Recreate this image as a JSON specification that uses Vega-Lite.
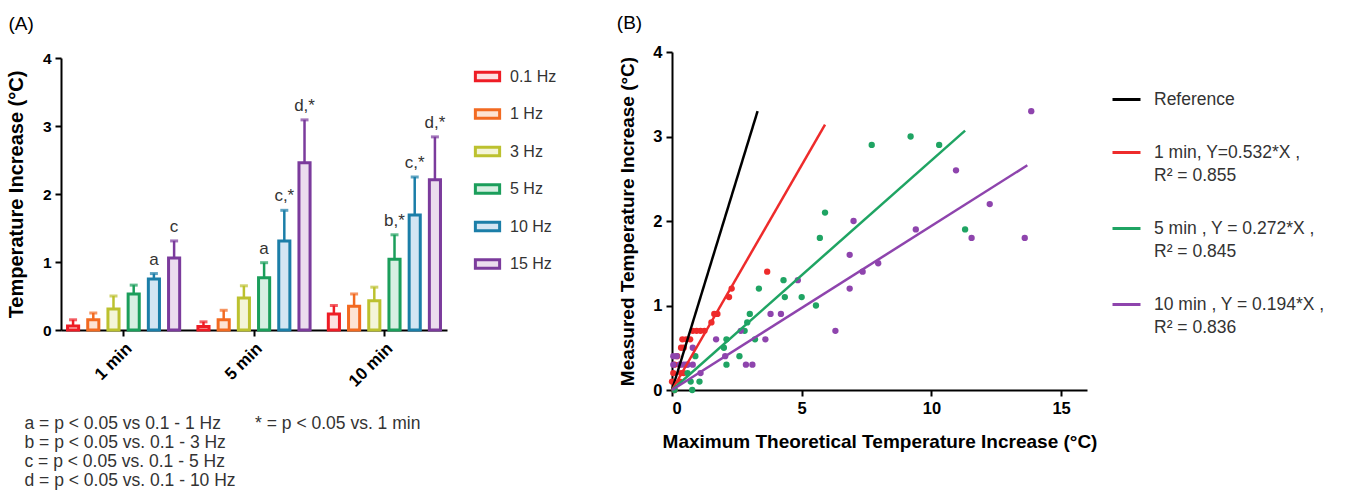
{
  "$schema": "https://vega.github.io/schema/vega-lite/v6.json",
  "background": "white",
  "padding": {"left": 6, "top": 14, "right": 5, "bottom": 5},
  "config": {
    "font": "Liberation Sans",
    "view": {"stroke": null},
    "axis": {"domainColor": "black", "domainWidth": 2, "tickColor": "black", "tickWidth": 2, "tickSize": 6, "labelFont": "Liberation Sans", "labelFontWeight": "bold", "labelFontSize": 15.5, "labelColor": "black", "labelPadding": 4, "titleFont": "Liberation Sans", "titleFontWeight": "bold", "titleColor": "black", "titleFontSize": 19, "grid": false},
    "legend": {"labelFont": "Liberation Sans", "labelFontSize": 16, "labelColor": "#333333", "titleFontSize": 0},
    "title": {"font": "Liberation Sans", "fontWeight": "normal", "fontSize": 19, "color": "black", "anchor": "start"}
  },
  "resolve": {
    "scale": {"color": "independent", "fill": "independent", "stroke": "independent"},
    "legend": {"color": "independent", "fill": "independent", "stroke": "independent"}
  },
  "datasets": {
    "bars": [
      {"time": "1 min", "freq": "0.1 Hz", "mean": 0.06, "upper": 0.15, "label": ""},
      {"time": "1 min", "freq": "1 Hz", "mean": 0.15, "upper": 0.25, "label": ""},
      {"time": "1 min", "freq": "3 Hz", "mean": 0.31, "upper": 0.5, "label": ""},
      {"time": "1 min", "freq": "5 Hz", "mean": 0.53, "upper": 0.66, "label": ""},
      {"time": "1 min", "freq": "10 Hz", "mean": 0.75, "upper": 0.83, "label": "a"},
      {"time": "1 min", "freq": "15 Hz", "mean": 1.06, "upper": 1.31, "label": "c"},
      {"time": "5 min", "freq": "0.1 Hz", "mean": 0.05, "upper": 0.12, "label": ""},
      {"time": "5 min", "freq": "1 Hz", "mean": 0.15, "upper": 0.29, "label": ""},
      {"time": "5 min", "freq": "3 Hz", "mean": 0.47, "upper": 0.65, "label": ""},
      {"time": "5 min", "freq": "5 Hz", "mean": 0.77, "upper": 0.99, "label": "a"},
      {"time": "5 min", "freq": "10 Hz", "mean": 1.31, "upper": 1.76, "label": "c,*"},
      {"time": "5 min", "freq": "15 Hz", "mean": 2.46, "upper": 3.09, "label": "d,*"},
      {"time": "10 min", "freq": "0.1 Hz", "mean": 0.235, "upper": 0.36, "label": ""},
      {"time": "10 min", "freq": "1 Hz", "mean": 0.35, "upper": 0.53, "label": ""},
      {"time": "10 min", "freq": "3 Hz", "mean": 0.43, "upper": 0.63, "label": ""},
      {"time": "10 min", "freq": "5 Hz", "mean": 1.04, "upper": 1.4, "label": "b,*"},
      {"time": "10 min", "freq": "10 Hz", "mean": 1.69, "upper": 2.25, "label": "c,*"},
      {"time": "10 min", "freq": "15 Hz", "mean": 2.21, "upper": 2.84, "label": "d,*"}
    ],
    "lines": [
      {"series": "Reference", "x": 0, "y": 0}, {"series": "Reference", "x": 3.3, "y": 3.3},
      {"series": "1 min", "x": 0, "y": 0}, {"series": "1 min", "x": 5.9, "y": 3.14},
      {"series": "5 min", "x": 0, "y": 0}, {"series": "5 min", "x": 11.3, "y": 3.07},
      {"series": "10 min", "x": 0, "y": 0}, {"series": "10 min", "x": 13.7, "y": 2.66}
    ],
    "points": [
      {"series": "1 min", "x": 3.67, "y": 1.4}, {"series": "1 min", "x": 2.3, "y": 1.2}, {"series": "1 min", "x": 2.2, "y": 1.1},
      {"series": "1 min", "x": 1.75, "y": 0.9}, {"series": "1 min", "x": 1.63, "y": 0.9}, {"series": "1 min", "x": 1.52, "y": 0.8},
      {"series": "1 min", "x": 0.8, "y": 0.7}, {"series": "1 min", "x": 0.95, "y": 0.7}, {"series": "1 min", "x": 1.1, "y": 0.7},
      {"series": "1 min", "x": 1.25, "y": 0.7}, {"series": "1 min", "x": 0.4, "y": 0.6}, {"series": "1 min", "x": 0.55, "y": 0.6},
      {"series": "1 min", "x": 0.7, "y": 0.6}, {"series": "1 min", "x": 0.35, "y": 0.5}, {"series": "1 min", "x": 0.45, "y": 0.5},
      {"series": "1 min", "x": 0.2, "y": 0.4}, {"series": "1 min", "x": 0.1, "y": 0.3}, {"series": "1 min", "x": 0.3, "y": 0.3},
      {"series": "1 min", "x": 0.05, "y": 0.2}, {"series": "1 min", "x": 0.35, "y": 0.2}, {"series": "1 min", "x": 0.45, "y": 0.2},
      {"series": "1 min", "x": 0.0, "y": 0.1}, {"series": "1 min", "x": 0.1, "y": 0.0}, {"series": "1 min", "x": 0.3, "y": 0.1},
      {"series": "5 min", "x": 5.9, "y": 2.1}, {"series": "5 min", "x": 5.7, "y": 1.8}, {"series": "5 min", "x": 7.7, "y": 2.9},
      {"series": "5 min", "x": 9.2, "y": 3.0}, {"series": "5 min", "x": 10.3, "y": 2.9}, {"series": "5 min", "x": 11.3, "y": 1.9},
      {"series": "5 min", "x": 4.3, "y": 1.3}, {"series": "5 min", "x": 4.35, "y": 1.1}, {"series": "5 min", "x": 5.0, "y": 1.1},
      {"series": "5 min", "x": 5.55, "y": 1.0}, {"series": "5 min", "x": 3.35, "y": 1.2}, {"series": "5 min", "x": 3.0, "y": 0.9},
      {"series": "5 min", "x": 2.9, "y": 0.8}, {"series": "5 min", "x": 2.8, "y": 0.7}, {"series": "5 min", "x": 3.2, "y": 0.6},
      {"series": "5 min", "x": 2.6, "y": 0.4}, {"series": "5 min", "x": 2.1, "y": 0.6}, {"series": "5 min", "x": 2.0, "y": 0.5},
      {"series": "5 min", "x": 2.1, "y": 0.3}, {"series": "5 min", "x": 0.9, "y": 0.4}, {"series": "5 min", "x": 0.72, "y": 0.1},
      {"series": "5 min", "x": 1.06, "y": 0.1}, {"series": "5 min", "x": 0.78, "y": 0.0}, {"series": "5 min", "x": 0.6, "y": 0.2},
      {"series": "5 min", "x": 0.1, "y": 0.0},
      {"series": "10 min", "x": 13.85, "y": 3.3}, {"series": "10 min", "x": 10.95, "y": 2.6}, {"series": "10 min", "x": 12.25, "y": 2.2},
      {"series": "10 min", "x": 11.55, "y": 1.8}, {"series": "10 min", "x": 13.6, "y": 1.8}, {"series": "10 min", "x": 9.4, "y": 1.9},
      {"series": "10 min", "x": 7.0, "y": 2.0}, {"series": "10 min", "x": 6.85, "y": 1.6}, {"series": "10 min", "x": 6.85, "y": 1.2},
      {"series": "10 min", "x": 7.35, "y": 1.4}, {"series": "10 min", "x": 7.95, "y": 1.5}, {"series": "10 min", "x": 4.85, "y": 1.3},
      {"series": "10 min", "x": 6.3, "y": 0.7}, {"series": "10 min", "x": 3.8, "y": 0.9}, {"series": "10 min", "x": 4.2, "y": 0.9},
      {"series": "10 min", "x": 3.6, "y": 0.6}, {"series": "10 min", "x": 1.7, "y": 0.6}, {"series": "10 min", "x": 2.65, "y": 0.7},
      {"series": "10 min", "x": 2.85, "y": 0.3}, {"series": "10 min", "x": 3.1, "y": 0.3}, {"series": "10 min", "x": 2.05, "y": 0.4},
      {"series": "10 min", "x": 1.1, "y": 0.2}, {"series": "10 min", "x": 0.8, "y": 0.3}, {"series": "10 min", "x": 0.8, "y": 0.5},
      {"series": "10 min", "x": 0.55, "y": 0.3}, {"series": "10 min", "x": 0.45, "y": 0.3}, {"series": "10 min", "x": 0.18, "y": 0.4},
      {"series": "10 min", "x": 0.05, "y": 0.4}, {"series": "10 min", "x": 0.05, "y": 0.3}, {"series": "10 min", "x": 0.3, "y": 0.3},
      {"series": "10 min", "x": 0.6, "y": 0.3}
    ]
  },
  "spacing": 45,
  "hconcat": [
    {
      "width": 386,
      "height": 278,
      "title": {"text": "(A)", "offset": 17, "dx": 2},
      "data": {"name": "bars"},
      "encoding": {
        "x": {"field": "time", "type": "nominal", "sort": ["1 min", "5 min", "10 min"],
          "scale": {"paddingInner": 0.14, "paddingOuter": 0.05},
          "axis": {"labelAngle": -45, "labelFontSize": 17,
            "title": ["a = p < 0.05 vs 0.1 - 1 Hz\u00a0\u00a0\u00a0\u00a0\u00a0\u00a0\u00a0* = p < 0.05 vs. 1 min", "b = p < 0.05 vs. 0.1 - 3 Hz", "c = p < 0.05 vs. 0.1 - 5 Hz", "d = p < 0.05 vs. 0.1 - 10 Hz"],
            "titleFontWeight": "normal", "titleFontSize": 17.5, "titleColor": "#333333", "titleAnchor": "start", "titleAlign": "left", "titleBaseline": "top", "titleX": -37, "titleY": 84, "titleLineHeight": 19}},
        "xOffset": {"field": "freq", "type": "nominal", "sort": ["0.1 Hz", "1 Hz", "3 Hz", "5 Hz", "10 Hz", "15 Hz"],
          "scale": {"paddingInner": 0.45, "paddingOuter": 0}}
      },
      "layer": [
        {
          "mark": {"type": "bar", "strokeWidth": 3},
          "encoding": {
            "y": {"field": "mean", "type": "quantitative", "scale": {"domain": [0, 4], "range": [278, 6]},
              "axis": {"values": [0, 1, 2, 3, 4], "format": "d", "title": "Temperature Increase (°C)", "titleFontSize": 20, "titlePadding": 16}},
            "stroke": {"field": "freq", "type": "nominal",
              "scale": {"domain": ["0.1 Hz", "1 Hz", "3 Hz", "5 Hz", "10 Hz", "15 Hz"], "range": ["#EE1C25", "#F26A21", "#BCC12F", "#1B9E5B", "#1B7EA8", "#7B3B9C"]},
              "legend": {"title": null, "symbolType": "M-1.4,-0.5H1.4V0.5H-1.4Z", "symbolSize": 300, "symbolStrokeWidth": 3, "labelOffset": 12, "rowPadding": 16.5, "padding": 14, "offset": 16}},
            "fill": {"field": "freq", "type": "nominal",
              "scale": {"domain": ["0.1 Hz", "1 Hz", "3 Hz", "5 Hz", "10 Hz", "15 Hz"], "range": ["#FDE0E0", "#FDE3D3", "#F4F5D8", "#D7EFE2", "#D3E5F3", "#EBDDEE"]},
              "legend": {"title": null, "symbolType": "M-1.4,-0.5H1.4V0.5H-1.4Z", "symbolSize": 300, "symbolStrokeWidth": 3, "labelOffset": 12, "rowPadding": 16.5, "padding": 14, "offset": 16}}
          }
        },
        {
          "mark": {"type": "rule", "strokeWidth": 2.5},
          "encoding": {
            "y": {"field": "mean", "type": "quantitative"},
            "y2": {"field": "upper"},
            "stroke": {"field": "freq", "type": "nominal", "legend": null}
          }
        },
        {
          "mark": {"type": "tick", "thickness": 3, "size": 8, "orient": "horizontal"},
          "encoding": {
            "y": {"field": "upper", "type": "quantitative"},
            "color": {"field": "freq", "type": "nominal", "legend": null,
              "scale": {"domain": ["0.1 Hz", "1 Hz", "3 Hz", "5 Hz", "10 Hz", "15 Hz"], "range": ["#EE1C25", "#F26A21", "#BCC12F", "#1B9E5B", "#1B7EA8", "#7B3B9C"]}}
          }
        },
        {
          "transform": [{"filter": "datum.label != ''"}],
          "mark": {"type": "text", "baseline": "bottom", "dy": -5, "fontSize": 17, "color": "#333333"},
          "encoding": {
            "y": {"field": "upper", "type": "quantitative"},
            "text": {"field": "label"}
          }
        }
      ]
    },
    {
      "width": 415,
      "height": 338,
      "title": {"text": "(B)", "offset": 11, "dx": -2},
      "layer": [
        {
          "data": {"name": "points"},
          "mark": {"type": "circle", "size": 40, "opacity": 1},
          "encoding": {
            "x": {"field": "x", "type": "quantitative", "scale": {"domain": [0, 15]},
              "axis": {"values": [0, 5, 10, 15], "format": "d", "labelFontSize": 16.5, "title": "Maximum Theoretical Temperature Increase (°C)", "titlePadding": 16}},
            "y": {"field": "y", "type": "quantitative", "scale": {"domain": [0, 4]},
              "axis": {"values": [0, 1, 2, 3, 4], "format": "d", "labelFontSize": 16.5, "title": "Measured Temperature Increase (°C)", "titlePadding": 15}},
            "fill": {"field": "series", "type": "nominal", "legend": null,
              "scale": {"domain": ["1 min", "5 min", "10 min"], "range": ["#EE2B2B", "#1FA463", "#8E44AD"]}}
          }
        },
        {
          "data": {"name": "lines"},
          "mark": {"type": "line", "strokeWidth": 2.5},
          "encoding": {
            "x": {"field": "x", "type": "quantitative"},
            "y": {"field": "y", "type": "quantitative"},
            "stroke": {"field": "series", "type": "nominal",
              "scale": {"domain": ["Reference", "1 min", "5 min", "10 min"], "range": ["#000000", "#EE2B2B", "#1FA463", "#8E44AD"]},
              "legend": {"title": null, "symbolType": "stroke", "symbolSize": 784, "symbolStrokeWidth": 3, "labelFontSize": 17.5, "labelOffset": 12, "rowPadding": 29, "padding": 32, "offset": -8, "labelLimit": 400,
                "labelExpr": "datum.label == '1 min' ? ['1 min, Y=0.532*X ,', 'R² = 0.855'] : datum.label == '5 min' ? ['5 min , Y = 0.272*X ,', 'R² = 0.845'] : datum.label == '10 min' ? ['10 min , Y = 0.194*X ,', 'R² = 0.836'] : datum.label",
                "encode": {"labels": {"update": {"lineHeight": {"value": 23}}}}}}
          }
        }
      ]
    }
  ]
}
